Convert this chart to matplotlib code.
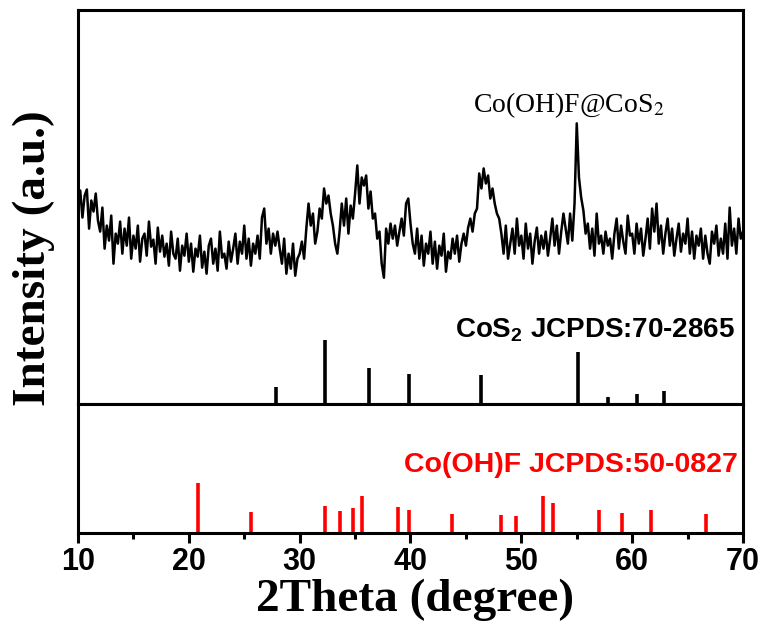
import numpy as np
import matplotlib
matplotlib.use("Agg")
import matplotlib.pyplot as plt

# ---- measured pattern of the Co(OH)F@CoS2 sample (2theta step 0.2 deg) ----
two_theta = np.round(np.arange(10.0, 70.0001, 0.2), 1)
intensity = [
    200, 213, 186, 208, 214, 175, 203, 192, 210, 183,   # 10-12
    172, 196, 155, 178, 163, 188, 140, 170, 160, 182,   # 12-14
    150, 175, 158, 186, 145, 168, 155, 178, 142, 165,   # 14-16
    170, 148, 182, 157, 164, 140, 176, 152, 168, 147,   # 16-18
    160, 138, 172, 150, 145, 165, 133, 158, 148, 170,   # 18-20
    142, 160, 132, 155, 147, 168, 136, 152, 130, 158,   # 20-22
    165, 140, 155, 133, 172, 146, 150, 135, 162, 142,   # 22-24
    155, 170, 140, 162, 150, 178, 145, 165, 138, 160,   # 24-26
    150, 168, 145, 186, 195, 160, 175, 150, 170, 158,   # 26-28
    172, 155, 140, 165, 130, 150, 135, 160, 128, 145,   # 28-30
    150, 162, 145, 175, 200, 178, 190, 160, 172, 195,   # 30-32
    185, 215, 200, 208, 190, 178, 160, 150, 172, 200,   # 32-34
    178, 205, 170, 198, 185, 210, 238, 200, 226, 218,   # 34-36
    228, 195, 212, 185, 190, 165, 172, 140, 126, 175,   # 36-38
    160, 180, 165, 178, 158, 172, 185, 168, 200, 205,   # 38-40
    180, 160, 150, 175, 145, 168, 138, 160, 150, 172,   # 40-42
    140, 162, 135, 158, 148, 170, 132, 152, 145, 165,   # 42-44
    150, 168, 142, 160, 170, 158, 176, 185, 172, 190,   # 44-46
    195, 230, 215, 235, 220, 228, 205, 215, 200, 190,   # 46-48
    185, 170, 150, 178, 145, 160, 175, 150, 185, 158,   # 48-50
    168, 145, 180, 155, 170, 140, 162, 176, 150, 168,   # 50-52
    155, 172, 148, 165, 185, 158, 178, 150, 172, 190,   # 52-54
    175, 160, 190, 163, 200, 280, 226, 206, 193, 170,   # 54-56
    180, 155, 175, 148, 190, 160, 168, 150, 172, 158,   # 56-58
    165, 145, 170, 185, 155, 178, 162, 150, 188, 168,   # 58-60
    170, 150, 180, 160, 175, 148, 165, 185, 155, 195,   # 60-62
    172, 200, 160, 178, 150, 170, 185, 158, 175, 148,   # 62-64
    165, 180, 152, 170, 160, 185, 150, 172, 145, 168,   # 64-66
    158, 175, 145, 168, 150, 140, 172, 160, 178, 148,   # 66-68
    165, 150, 180, 145, 196, 158, 175, 150, 185, 165,   # 68-70
    172,
]

# ---- reference cards ----
cos2_pos = [27.9, 32.3, 36.3, 39.9, 46.4, 49.4, 55.1, 57.8, 60.4, 62.9]
cos2_int = [17, 64, 36, 30, 29, 1.5, 52, 7, 10, 13]

cooh_pos = [20.8, 25.6, 32.3, 33.6, 34.8, 35.6, 38.9, 39.9, 43.7, 48.2,
            49.5, 52.0, 52.9, 57.0, 59.1, 61.7, 66.7]
cooh_int = [50, 21, 27, 22, 25, 37, 26, 23, 19, 18,
            17, 37, 30, 23, 20, 23, 19]

plt.rcParams['mathtext.fontset'] = 'custom'
plt.rcParams['mathtext.rm'] = 'Liberation Sans:bold'
plt.rcParams['mathtext.bf'] = 'Liberation Sans:bold'

sans = ['Liberation Sans', 'DejaVu Sans']
serif = ['Liberation Serif', 'DejaVu Serif']

fig = plt.figure(figsize=(7.67, 6.30), dpi=100)
ax1 = fig.add_axes([0.1017, 0.3587, 0.867, 0.6253])
ax2 = fig.add_axes([0.1017, 0.1540, 0.867, 0.2047])

# top panel: sample trace + CoS2 sticks
ax1.plot(two_theta, intensity, color='black', lw=1.8)
ax1.vlines(cos2_pos, 0, cos2_int, color='black', lw=2.6)
ax1.set_xlim(10, 70)
ax1.set_ylim(0, 393)
ax1.text(45.6, 298, 'Co(OH)F@CoS$_2$', family=serif, fontsize=20,
         ha='left', va='center', math_fontfamily='stix')
ax1.text(69.3, 74, r'CoS$_\mathbf{2}$ JCPDS:70-2865', family=sans,
         fontsize=20, fontweight='bold', ha='right', va='center')

# bottom panel: Co(OH)F sticks
ax2.vlines(cooh_pos, 0, cooh_int, color='#ff0000', lw=2.6)
ax2.set_xlim(10, 70)
ax2.set_ylim(0, 129)
ax2.text(69.5, 68, 'Co(OH)F JCPDS:50-0827', family=sans,
         fontsize=20.5, fontweight='bold', color='#ff0000', ha='right', va='center')

for ax in (ax1, ax2):
    for sp in ax.spines.values():
        sp.set_linewidth(2.2)
    ax.set_yticks([])

ax1.set_xticks([])
ax2.set_xticks(np.arange(10, 71, 10))
ax2.set_xticks(np.arange(15, 70, 10), minor=True)
ax2.tick_params(axis='x', which='major', direction='out', length=7, width=2.2, pad=3)
ax2.tick_params(axis='x', which='minor', direction='out', length=4, width=2.2)
for lab in ax2.get_xticklabels():
    lab.set_family(sans)
    lab.set_fontweight('bold')
    lab.set_fontsize(22)

fig.text(0.541, 0.048, '2Theta (degree)', family=serif, fontweight='bold',
         fontsize=34, ha='center', va='center')
fig.text(0.044, 0.59, 'Intensity (a.u.)', family=serif, fontweight='bold',
         fontsize=34, ha='center', va='center', rotation=90)

fig.savefig('out.png', dpi=100)
